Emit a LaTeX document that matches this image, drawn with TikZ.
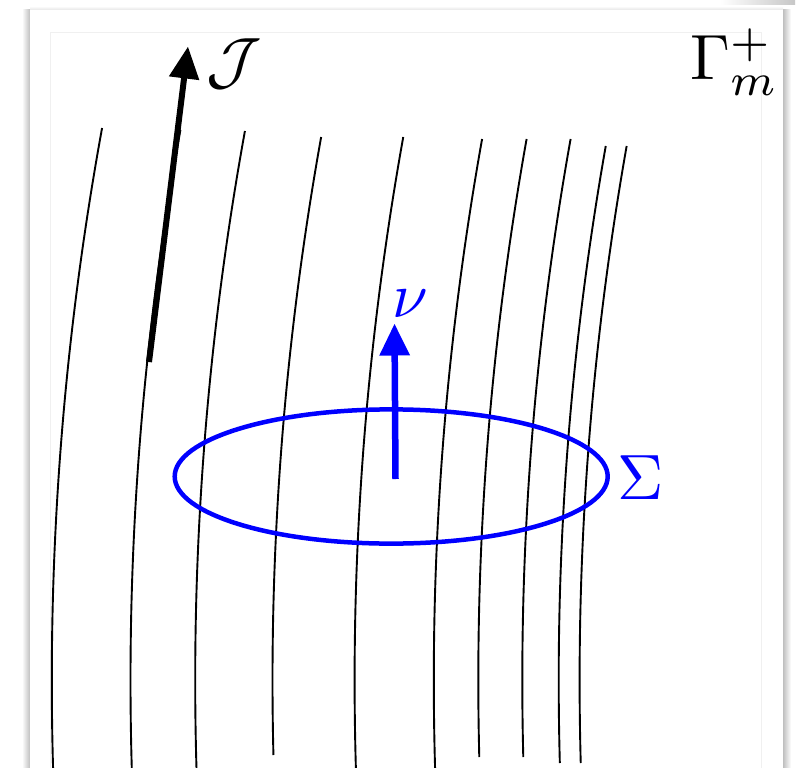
\documentclass[tikz,border=0pt]{standalone}
\usepackage{graphicx}
\usetikzlibrary{arrows.meta}
\newcommand{\bigmath}[1]{\scalebox{6.4}{$#1$}}
\begin{document}
\begin{tikzpicture}[x=1pt,y=-1pt,
  fieldline/.style={line width=1.9pt, black},
  bigarrow/.style={line width=6pt, -{Triangle[length=32pt,width=29pt]}},
  lbl/.style={inner sep=0pt}]
\useasboundingbox (0,0) rectangle (806,768);
\fill[white] (0,0) rectangle (806,768);
% card shadows
\shade[left color=white, right color=black!25] (22,10) rectangle (30,768);
\shade[left color=black!25, right color=white] (783,10) rectangle (791,768);
\shade[top color=white, bottom color=black!10] (30,6) rectangle (783,10);
\shade[left color=white, right color=black!22] (720,0) rectangle (795,5);
\fill[white] (30,10) rectangle (783,768);
\draw[black!6, line width=1pt] (50,768) -- (50,33) -- (761,33) -- (761,768);
% field lines
\foreach \a/\yt/\yb in {51.8/128/768, 130.5/130/768, 195.2/131/768, 272.5/137/755,
  354.6/137/768, 433.8/139/768, 478.3/139/757, 522.3/139/757, 558.7/146/763, 579.6/146/763}
  \draw[fieldline] plot[domain=\yt:\yb, samples=60, variable=\t, smooth]
    ({\a+1.65*((\t-680)/100)^2}, \t);
% J arrow
\coordinate (Jtail) at (149,362);
\coordinate (Jtip) at (188,46.5);
\draw[bigarrow] (Jtail) -- (Jtip);
\node[lbl, anchor=base west] (J) at (206,82) {\bigmath{\mathcal{J}}};
% Sigma ellipse
\draw[blue, line width=4.5pt] (391.2,476.5) ellipse [x radius=216.5pt, y radius=67.1pt];
% nu arrow
\coordinate (nutail) at (395.5,479);
\coordinate (nutip) at (394.5,323.5);
\draw[bigarrow, blue, line width=6.5pt] (nutail) -- (nutip);
\node[lbl, blue, anchor=base] (nu) at (410,317) {\bigmath{\nu}};
\node[lbl, blue, anchor=base west] (S) at (617,499) {\bigmath{\Sigma}};
\node[lbl, anchor=base west] (G) at (690,80) {\bigmath{\Gamma_m^+}};
\end{tikzpicture}
\end{document}
